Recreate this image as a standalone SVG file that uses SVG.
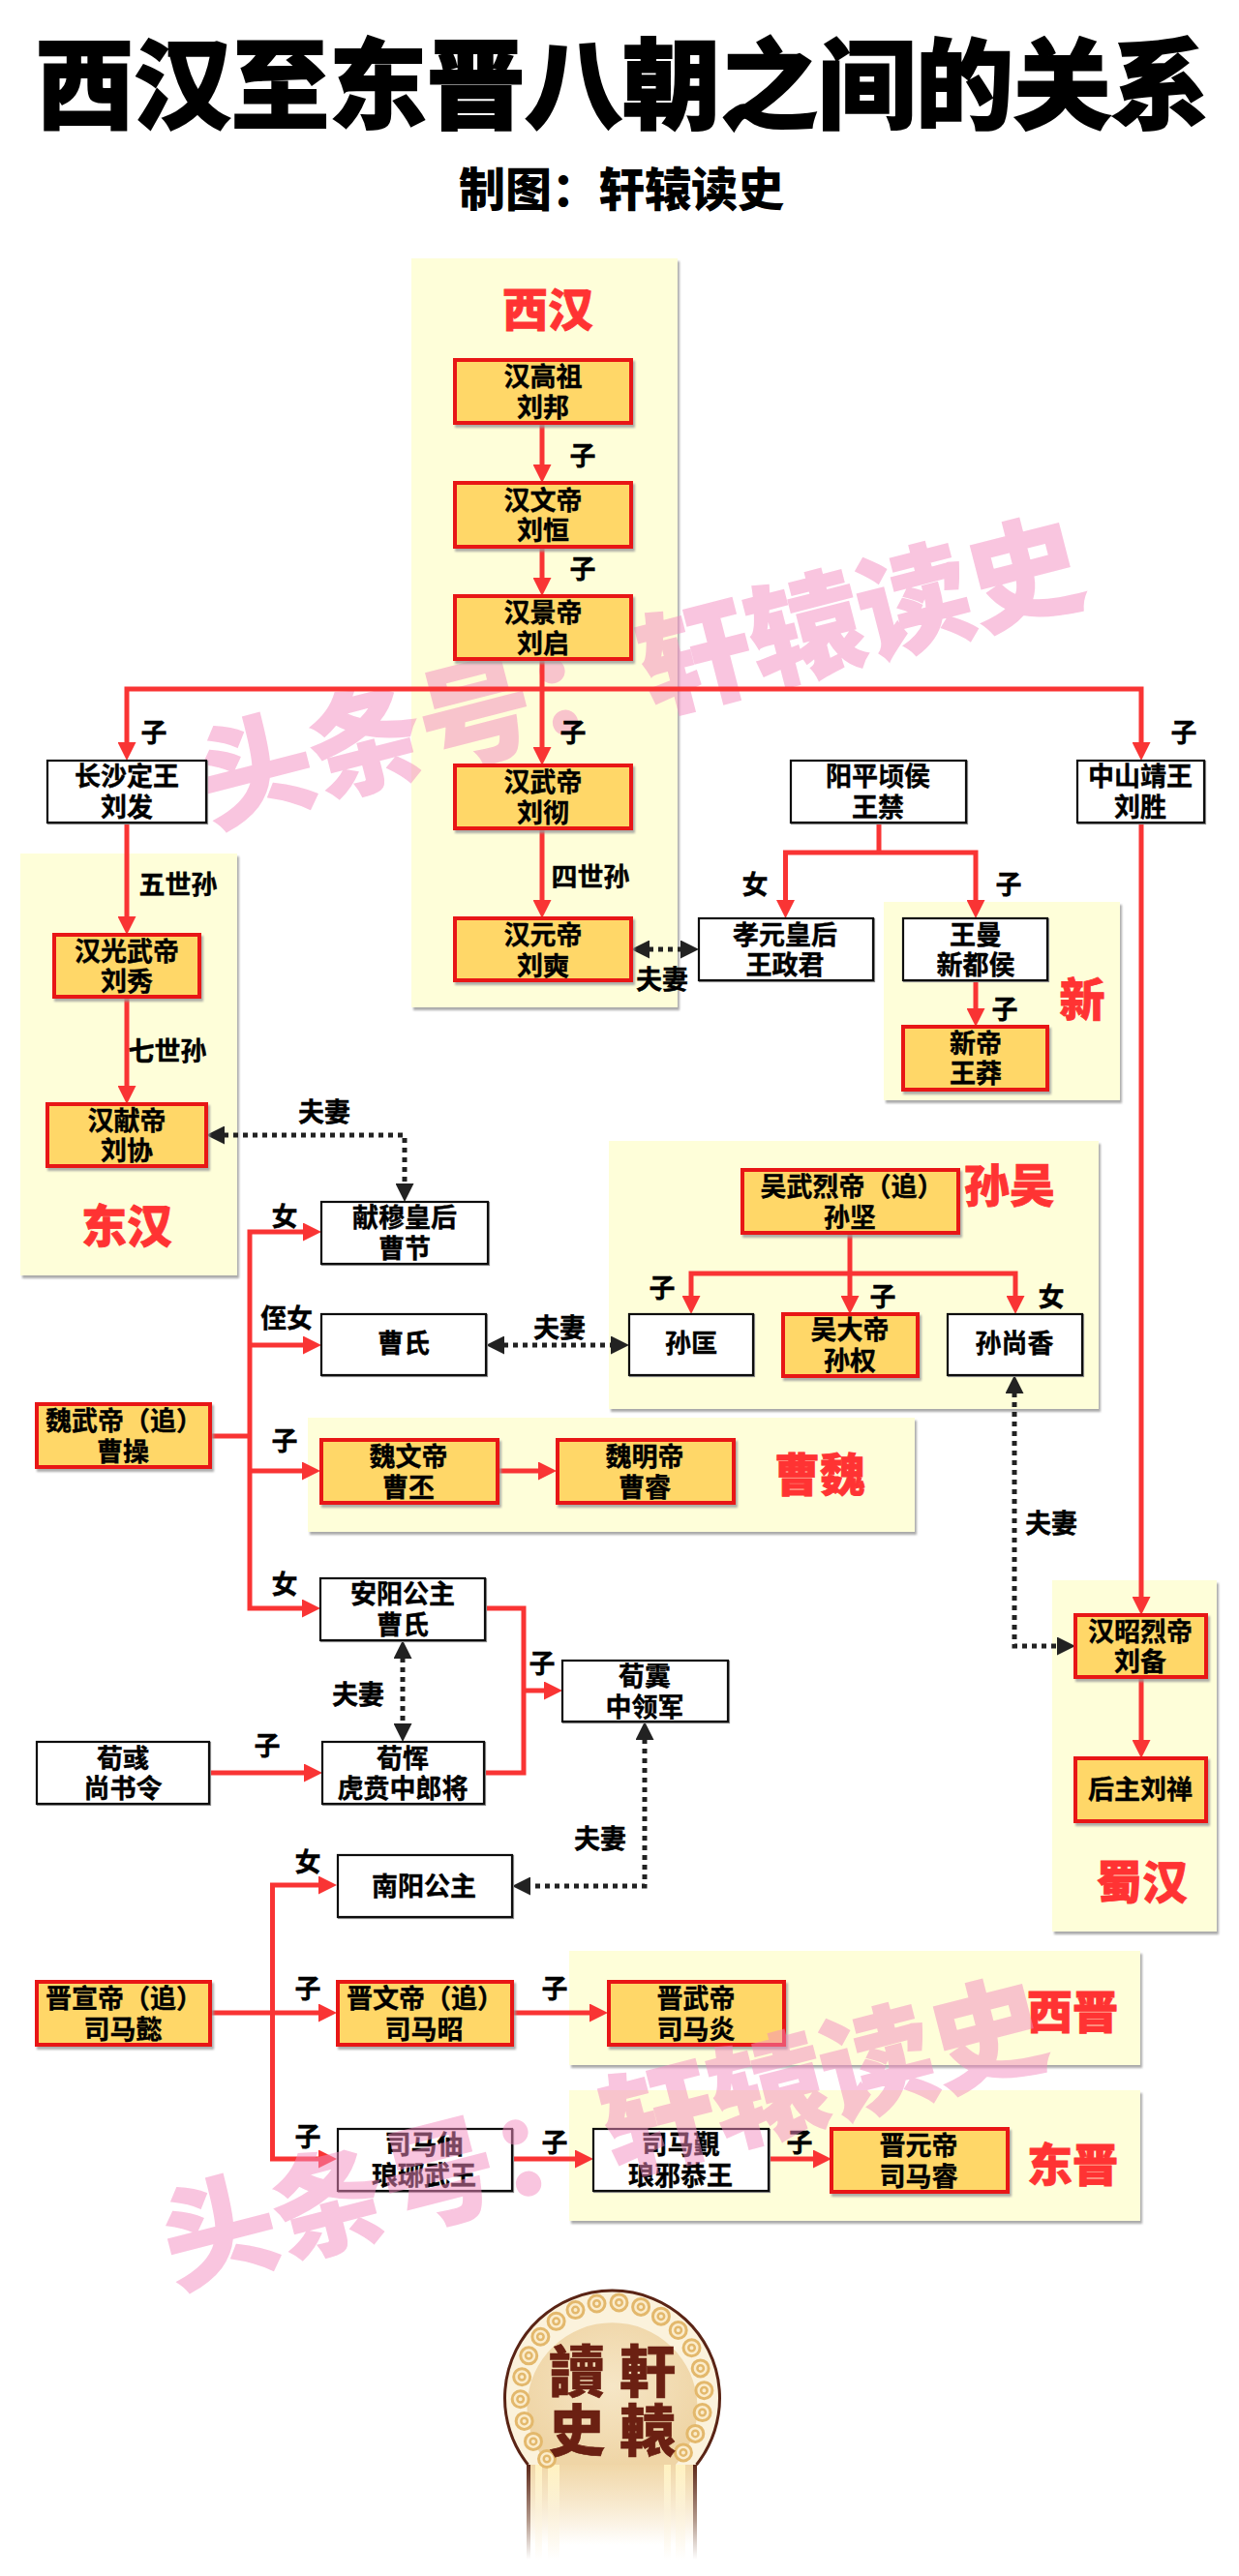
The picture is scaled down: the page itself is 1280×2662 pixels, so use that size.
<svg xmlns="http://www.w3.org/2000/svg" width="1280" height="2662" viewBox="0 0 1280 2662">
<defs>
<style>
text{font-family:"Noto Sans CJK SC","Noto Sans CJK TC",sans-serif;text-anchor:middle}
.t{font-size:27px;font-weight:700;fill:#000;stroke:#000;stroke-width:.4}
.l{font-size:27px;font-weight:700;fill:#000;stroke:#000;stroke-width:.4;dominant-baseline:central}
.p{font-size:47px;font-weight:900;fill:#f33;stroke:#f33;stroke-width:.8;dominant-baseline:central}
.pn{fill:#fefed9;filter:url(#ps)}
.g{fill:#ffd767;stroke:#e81212;stroke-width:4;filter:url(#ns)}
.w{fill:#fff;stroke:#111;stroke-width:2.2;filter:url(#ws)}
.c{fill:none;stroke:#f93434;stroke-width:5;stroke-linejoin:miter}
.a{marker-end:url(#ra)}
.d{fill:none;stroke:#222;stroke-width:5;stroke-dasharray:5 5;marker-start:url(#da);marker-end:url(#da)}
.wm{font-size:117px;font-weight:900;fill:#f48cc0;stroke:#f48cc0;stroke-width:1.5;opacity:.5}
.lg{font-family:"Noto Sans CJK TC",sans-serif;font-size:58px;font-weight:900;fill:#6b2012;stroke:#6b2012;stroke-width:.6;dominant-baseline:central}
.ring{fill:none;stroke-linecap:round;stroke-dasharray:0 23}
</style>
<filter id="ps" x="-5%" y="-5%" width="110%" height="110%"><feDropShadow dx="2" dy="3" stdDeviation="1" flood-color="#aaa"/></filter>
<filter id="ns" x="-5%" y="-5%" width="115%" height="120%"><feDropShadow dx="2" dy="3" stdDeviation="1" flood-color="#999" flood-opacity=".8"/></filter>
<filter id="ws" x="-5%" y="-5%" width="110%" height="115%"><feDropShadow dx="1" dy="1" stdDeviation=".6" flood-color="#888"/></filter>
<marker id="ra" markerUnits="userSpaceOnUse" markerWidth="19" markerHeight="19" viewBox="0 0 19 19" refX="11" refY="9.5" orient="auto"><path d="M0 0L19 9.5L0 19Z" fill="#f93434"/></marker>
<marker id="da" markerUnits="userSpaceOnUse" markerWidth="19" markerHeight="19" viewBox="0 0 19 19" refX="11" refY="9.5" orient="auto-start-reverse"><path d="M0 0L19 9.5L0 19Z" fill="#222"/></marker>
<linearGradient id="colg" x1="0" y1="0" x2="0" y2="1"><stop offset="0" stop-color="#f0d6a6"/><stop offset=".45" stop-color="#f8ead0"/><stop offset=".85" stop-color="#fff"/></linearGradient>
<linearGradient id="colb" x1="0" y1="0" x2="0" y2="1"><stop offset="0" stop-color="#5a2415"/><stop offset=".6" stop-color="#b39a8c"/><stop offset="1" stop-color="#fff"/></linearGradient>
<linearGradient id="cols" x1="0" y1="0" x2="0" y2="1"><stop offset="0" stop-color="#fff2c0"/><stop offset=".5" stop-color="#fbf0d8"/><stop offset="1" stop-color="#fff"/></linearGradient>
<radialGradient id="disc" cx=".5" cy=".45" r=".55"><stop offset="0" stop-color="#f6e6c6"/><stop offset="1" stop-color="#efd5a6"/></radialGradient>
</defs>

<g id="title"><text x="643" y="125" font-size="101" font-weight="900" fill="#000" stroke="#000" stroke-width="2">西汉至东晋八朝之间的关系</text>
<text x="642" y="213" font-size="48" font-weight="900" fill="#000">制图：轩辕读史</text></g>

<g id="panels">
<rect class="pn" x="425" y="267" width="275" height="774"/>
<rect class="pn" x="21" y="882" width="224" height="436"/>
<rect class="pn" x="913" y="932" width="244" height="205"/>
<rect class="pn" x="629" y="1179" width="506" height="277"/>
<rect class="pn" x="318" y="1465" width="627" height="118"/>
<rect class="pn" x="1087" y="1633" width="170" height="363"/>
<rect class="pn" x="588" y="2016" width="590" height="118"/>
<rect class="pn" x="588" y="2160" width="590" height="135"/>
</g>

<text class="wm" transform="translate(662 697) rotate(-14.4)" y="40">头条号：轩辕读史</text>

<g id="connectors">
<path class="c a" d="M560 437V491"/>
<path class="c a" d="M560 565V608"/>
<path class="c a" d="M560 681V783"/>
<path class="c a" d="M560 712H131V778"/>
<path class="c a" d="M560 712H1179V778"/>
<path class="c a" d="M131 850V958"/>
<path class="c a" d="M131 1030V1133"/>
<path class="c a" d="M560 856V941"/>
<path class="c" d="M908 850V881"/>
<path class="c a" d="M908 881H811.5V941"/>
<path class="c a" d="M908 881H1008V941"/>
<path class="c a" d="M1008 1013V1053"/>
<path class="c a" d="M1179 850V1661"/>
<path class="c a" d="M1179 1733V1809"/>
<path class="c a" d="M878 1274V1350"/>
<path class="c a" d="M878 1316H714V1350"/>
<path class="c a" d="M878 1316H1049V1350"/>
<path class="c" d="M217 1484H258"/>
<path class="c a" d="M258 1484V1273H324"/>
<path class="c a" d="M258 1390H324"/>
<path class="c a" d="M258 1520H323"/>
<path class="c a" d="M258 1484V1662H323"/>
<path class="c a" d="M513 1520H567"/>
<path class="c" d="M501 1662H541V1832H500"/>
<path class="c a" d="M541 1747H573"/>
<path class="c a" d="M216 1832H325"/>
<path class="c a" d="M217 2080H340"/>
<path class="c a" d="M281.5 2080V1948H340"/>
<path class="c a" d="M281.5 2080V2231H340"/>
<path class="c a" d="M529 2080H620"/>
<path class="c a" d="M529 2231H605"/>
<path class="c a" d="M794 2231H851"/>
<path class="d" d="M660 981H714"/>
<path class="d" d="M221 1173H418V1234"/>
<path class="d" d="M510 1390H642"/>
<path class="d" d="M416 1703V1792"/>
<path class="d" d="M666 1787V1949H537"/>
<path class="d" d="M1048 1429V1701H1103"/>
</g>

<g id="n-gaozu"><rect class="g" x="470" y="372" width="182" height="65"/><text class="t" x="561" y="399">汉高祖</text><text class="t" x="561" y="431">刘邦</text></g>
<g id="n-wendi"><rect class="g" x="470" y="499" width="182" height="66"/><text class="t" x="561" y="527">汉文帝</text><text class="t" x="561" y="558">刘恒</text></g>
<g id="n-jingdi"><rect class="g" x="470" y="616" width="182" height="65"/><text class="t" x="561" y="643">汉景帝</text><text class="t" x="561" y="675">刘启</text></g>
<g id="n-wudi"><rect class="g" x="470" y="791" width="182" height="65"/><text class="t" x="561" y="818">汉武帝</text><text class="t" x="561" y="850">刘彻</text></g>
<g id="n-yuandi"><rect class="g" x="470" y="949" width="182" height="64"/><text class="t" x="561" y="976">汉元帝</text><text class="t" x="561" y="1008">刘奭</text></g>
<g id="n-changsha"><rect class="w" x="49" y="786" width="164" height="64"/><text class="t" x="131" y="812">长沙定王</text><text class="t" x="131" y="844">刘发</text></g>
<g id="n-yangping"><rect class="w" x="817" y="786" width="181" height="64"/><text class="t" x="907" y="812">阳平顷侯</text><text class="t" x="907" y="844">王禁</text></g>
<g id="n-zhongshan"><rect class="w" x="1113" y="786" width="131" height="64"/><text class="t" x="1178" y="812">中山靖王</text><text class="t" x="1178" y="844">刘胜</text></g>
<g id="n-guangwu"><rect class="g" x="56" y="966" width="150" height="64"/><text class="t" x="131" y="993">汉光武帝</text><text class="t" x="131" y="1024">刘秀</text></g>
<g id="n-xiandi"><rect class="g" x="49" y="1141" width="164" height="64"/><text class="t" x="131" y="1168">汉献帝</text><text class="t" x="131" y="1199">刘协</text></g>
<g id="n-xiaoyuan"><rect class="w" x="722" y="949" width="180" height="64"/><text class="t" x="811" y="976">孝元皇后</text><text class="t" x="811" y="1007">王政君</text></g>
<g id="n-wangman"><rect class="w" x="933" y="949" width="149" height="64"/><text class="t" x="1008" y="976">王曼</text><text class="t" x="1008" y="1007">新都侯</text></g>
<g id="n-wangmang"><rect class="g" x="933" y="1061" width="149" height="65"/><text class="t" x="1008" y="1088">新帝</text><text class="t" x="1008" y="1119">王莽</text></g>
<g id="n-sunjian"><rect class="g" x="767" y="1209" width="223" height="65"/><text class="t" x="880" y="1236">吴武烈帝（追）</text><text class="t" x="878" y="1268">孙坚</text></g>
<g id="n-sunkuang"><rect class="w" x="650" y="1358" width="128" height="63"/><text class="t" x="714" y="1398">孙匡</text></g>
<g id="n-sunquan"><rect class="g" x="809" y="1358" width="139" height="64"/><text class="t" x="878" y="1384">吴大帝</text><text class="t" x="878" y="1416">孙权</text></g>
<g id="n-sunshangxiang"><rect class="w" x="979" y="1358" width="139" height="63"/><text class="t" x="1048" y="1398">孙尚香</text></g>
<g id="n-caojie"><rect class="w" x="332" y="1242" width="172" height="64"/><text class="t" x="418" y="1268">献穆皇后</text><text class="t" x="418" y="1300">曹节</text></g>
<g id="n-caoshi"><rect class="w" x="332" y="1358" width="170" height="63"/><text class="t" x="417" y="1398">曹氏</text></g>
<g id="n-caocao"><rect class="g" x="38" y="1451" width="179" height="65"/><text class="t" x="128" y="1478">魏武帝（追）</text><text class="t" x="127" y="1510">曹操</text></g>
<g id="n-caopi"><rect class="g" x="332" y="1488" width="182" height="65"/><text class="t" x="422" y="1515">魏文帝</text><text class="t" x="422" y="1547">曹丕</text></g>
<g id="n-caorui"><rect class="g" x="576" y="1488" width="182" height="65"/><text class="t" x="666" y="1515">魏明帝</text><text class="t" x="666" y="1547">曹睿</text></g>
<g id="n-anyang"><rect class="w" x="331" y="1631" width="170" height="64"/><text class="t" x="416" y="1657">安阳公主</text><text class="t" x="416" y="1689">曹氏</text></g>
<g id="n-xunkai"><rect class="w" x="581" y="1716" width="171" height="63"/><text class="t" x="666" y="1742">荀霬</text><text class="t" x="666" y="1774">中领军</text></g>
<g id="n-xunyun"><rect class="w" x="333" y="1800" width="167" height="64"/><text class="t" x="416" y="1827">荀恽</text><text class="t" x="416" y="1858">虎贲中郎将</text></g>
<g id="n-xunyu"><rect class="w" x="38" y="1800" width="178" height="64"/><text class="t" x="127" y="1827">荀彧</text><text class="t" x="127" y="1858">尚书令</text></g>
<g id="n-liubei"><rect class="g" x="1111" y="1669" width="135" height="64"/><text class="t" x="1178" y="1696">汉昭烈帝</text><text class="t" x="1178" y="1727">刘备</text></g>
<g id="n-liushan"><rect class="g" x="1111" y="1817" width="135" height="65"/><text class="t" x="1178" y="1859">后主刘禅</text></g>
<g id="n-nanyang"><rect class="w" x="349" y="1917" width="180" height="64"/><text class="t" x="438" y="1959">南阳公主</text></g>
<g id="n-simayi"><rect class="g" x="38" y="2048" width="179" height="65"/><text class="t" x="128" y="2075">晋宣帝（追）</text><text class="t" x="127" y="2107">司马懿</text></g>
<g id="n-simazhao"><rect class="g" x="349" y="2048" width="180" height="65"/><text class="t" x="439" y="2075">晋文帝（追）</text><text class="t" x="438" y="2107">司马昭</text></g>
<g id="n-simayan"><rect class="g" x="629" y="2048" width="181" height="65"/><text class="t" x="719" y="2075">晋武帝</text><text class="t" x="719" y="2107">司马炎</text></g>
<g id="n-simazhou"><rect class="w" x="349" y="2200" width="180" height="64"/><text class="t" x="438" y="2226">司马伷</text><text class="t" x="438" y="2258">琅琊武王</text></g>
<g id="n-simajin"><rect class="w" x="613" y="2200" width="181" height="64"/><text class="t" x="703" y="2226">司马覲</text><text class="t" x="703" y="2258">琅邪恭王</text></g>
<g id="n-simarui"><rect class="g" x="859" y="2200" width="182" height="65"/><text class="t" x="949" y="2227">晋元帝</text><text class="t" x="949" y="2259">司马睿</text></g>

<g id="panel-labels">
<text class="p" x="566" y="316">西汉</text>
<text class="p" x="131" y="1263">东汉</text>
<text class="p" x="1118" y="1029">新</text>
<text class="p" x="1043" y="1221">孙吴</text>
<text class="p" x="847" y="1520">曹魏</text>
<text class="p" x="1180" y="1941">蜀汉</text>
<text class="p" x="1108" y="2075">西晋</text>
<text class="p" x="1108" y="2233">东晋</text>
</g>

<g id="edge-labels">
<text class="l" x="602" y="469">子</text><text class="l" x="602" y="586">子</text>
<text class="l" x="159" y="755">子</text><text class="l" x="592" y="755">子</text><text class="l" x="1223" y="755">子</text>
<text class="l" x="184" y="912">五世孙</text><text class="l" x="610" y="904">四世孙</text>
<text class="l" x="780" y="912">女</text><text class="l" x="1042" y="912">子</text><text class="l" x="1038" y="1041">子</text>
<text class="l" x="684" y="1010">夫妻</text><text class="l" x="173" y="1084">七世孙</text><text class="l" x="335" y="1147">夫妻</text>
<text class="l" x="294" y="1255">女</text><text class="l" x="296" y="1360">侄女</text>
<text class="l" x="684" y="1329">子</text><text class="l" x="912" y="1338">子</text><text class="l" x="1086" y="1338">女</text>
<text class="l" x="578" y="1370">夫妻</text><text class="l" x="294" y="1487">子</text><text class="l" x="1086" y="1572">夫妻</text>
<text class="l" x="294" y="1635">女</text><text class="l" x="560" y="1717">子</text><text class="l" x="370" y="1749">夫妻</text>
<text class="l" x="276" y="1802">子</text><text class="l" x="620" y="1898">夫妻</text><text class="l" x="318" y="1922">女</text>
<text class="l" x="318" y="2053">子</text><text class="l" x="573" y="2053">子</text>
<text class="l" x="318" y="2206">子</text><text class="l" x="573" y="2212">子</text><text class="l" x="826" y="2212">子</text>
</g>

<g id="logo">
<rect x="547" y="2545" width="170" height="100" fill="url(#colg)"/>
<rect x="544" y="2545" width="4" height="100" fill="url(#colb)"/>
<rect x="716" y="2545" width="4" height="100" fill="url(#colb)"/>
<rect x="553" y="2545" width="7" height="100" fill="url(#cols)"/>
<rect x="566" y="2545" width="12" height="100" fill="url(#cols)"/>
<rect x="686" y="2545" width="7" height="100" fill="url(#cols)"/>
<rect x="698" y="2545" width="10" height="100" fill="url(#cols)"/>
<path d="M545.5 2547A111 111 0 1 1 719.5 2547Z" fill="#fbf2dc"/>
<path d="M545.5 2547A111 111 0 1 1 719.5 2547" fill="none" stroke="#5a2415" stroke-width="3"/>
<path d="M567 2547A88 88 0 1 1 698 2547Z" fill="url(#disc)"/>
<path class="ring" d="M565 2541A95 95 0 1 1 700 2541" stroke="#e3b86c" stroke-width="20"/>
<path class="ring" d="M565 2541A95 95 0 1 1 700 2541" stroke="#fbeccb" stroke-width="14"/>
<path class="ring" d="M565 2541A95 95 0 1 1 700 2541" stroke="#e3b86c" stroke-width="9"/>
<path class="ring" d="M565 2541A95 95 0 1 1 700 2541" stroke="#fbeccb" stroke-width="4"/>
<text class="lg" x="596" y="2447">讀</text><text class="lg" x="669" y="2447">軒</text>
<text class="lg" x="596" y="2508">史</text><text class="lg" x="669" y="2508">轅</text>
</g>

<text class="wm" transform="translate(624 2207) rotate(-14.4)" y="40">头条号：轩辕读史</text>
</svg>
